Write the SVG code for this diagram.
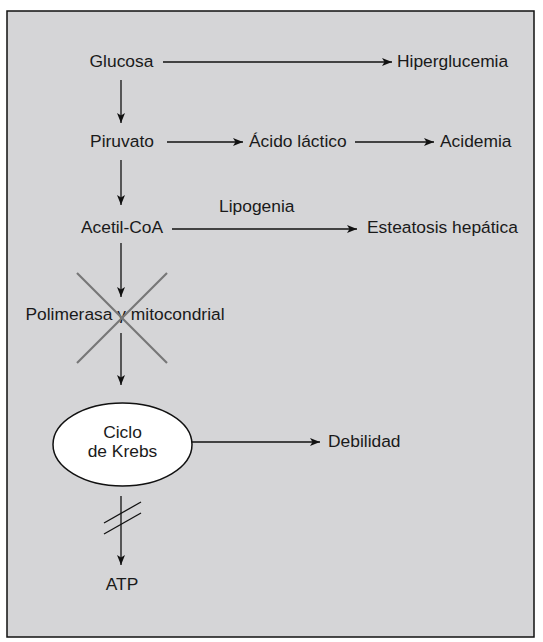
<svg xmlns="http://www.w3.org/2000/svg" width="543" height="642" viewBox="0 0 543 642">
<style>
text{font-family:"Liberation Sans",Arial,sans-serif;font-size:17.4px;fill:#1a1a1a}
.c{stroke:#111;stroke-width:1.3;fill:none}
.x{stroke:#777;stroke-width:2.2}
</style>
<defs>
<marker id="ah" viewBox="0 0 10 8" refX="10" refY="4" markerWidth="10" markerHeight="8" markerUnits="userSpaceOnUse" orient="auto">
<path d="M0,0 L10,4 L0,8 L2.5,4 Z" fill="#111"/>
</marker>
</defs>
<rect x="7" y="11" width="527" height="626" fill="#d5d5d7" stroke="#111" stroke-width="1.5"/>
<g id="connectors">
<line class="c" x1="163" y1="62" x2="392" y2="62" marker-end="url(#ah)"/>
<line class="c" x1="121" y1="80" x2="121" y2="123" marker-end="url(#ah)"/>
<line class="c" x1="167" y1="142" x2="243" y2="142" marker-end="url(#ah)"/>
<line class="c" x1="355" y1="142" x2="434" y2="142" marker-end="url(#ah)"/>
<line class="c" x1="121" y1="160" x2="121" y2="205" marker-end="url(#ah)"/>
<line class="c" x1="172" y1="229" x2="357" y2="229" marker-end="url(#ah)"/>
<line class="c" x1="121" y1="243" x2="121" y2="297" marker-end="url(#ah)"/>
<line class="c" x1="121" y1="333" x2="121" y2="385" marker-end="url(#ah)"/>
<line class="c" x1="192" y1="442" x2="320" y2="442" marker-end="url(#ah)"/>
<line class="c" x1="121" y1="496" x2="121" y2="565" marker-end="url(#ah)"/>
<line class="c" x1="104" y1="523" x2="141" y2="502"/>
<line class="c" x1="104" y1="534" x2="141" y2="513"/>
</g>
<g id="glucosa"><text x="121.5" y="67" text-anchor="middle">Glucosa</text></g>
<g id="hiperglucemia"><text x="397" y="67">Hiperglucemia</text></g>
<g id="piruvato"><text x="122" y="147" text-anchor="middle">Piruvato</text></g>
<g id="acido-lactico"><text x="249" y="147">Ácido láctico</text></g>
<g id="acidemia"><text x="440" y="147">Acidemia</text></g>
<g id="acetil-coa"><text x="122" y="233" text-anchor="middle">Acetil-CoA</text></g>
<g id="lipogenia"><text x="219" y="212">Lipogenia</text></g>
<g id="esteatosis"><text x="367" y="233">Esteatosis hepática</text></g>
<g id="polimerasa">
<text x="125" y="320" text-anchor="middle">Polimerasa γ mitocondrial</text>
<line class="x" x1="77" y1="273" x2="167" y2="363"/>
<line class="x" x1="167" y1="273" x2="77" y2="363"/>
</g>
<g id="krebs">
<ellipse cx="122.5" cy="444.5" rx="69.5" ry="41.5" fill="#fff" stroke="#111" stroke-width="1.5"/>
<text x="122.5" y="438" text-anchor="middle">Ciclo</text>
<text x="122.5" y="457" text-anchor="middle">de Krebs</text>
</g>
<g id="debilidad"><text x="328" y="447">Debilidad</text></g>
<g id="atp"><text x="122" y="590" text-anchor="middle">ATP</text></g>
</svg>
